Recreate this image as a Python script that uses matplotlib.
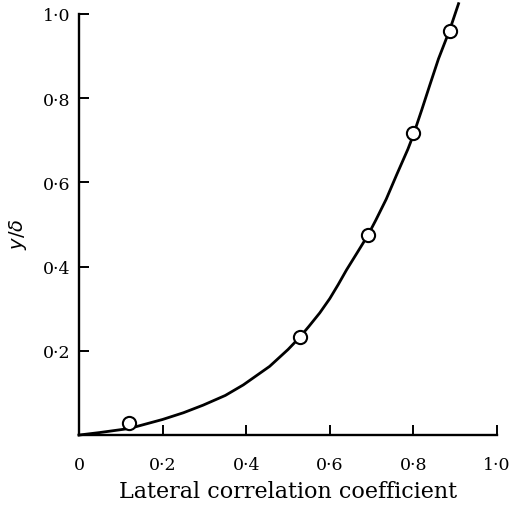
import numpy as np
import matplotlib.pyplot as plt

# measured points (open circles)
meas_x = [0.119, 0.528, 0.691, 0.799, 0.887]
meas_y = [0.029, 0.233, 0.474, 0.717, 0.960]

# fitted curve
curve_x = [0.0, 0.05, 0.106, 0.122, 0.2, 0.25, 0.297, 0.35, 0.393, 0.456,
           0.50, 0.528, 0.55, 0.576, 0.60, 0.62, 0.64, 0.665, 0.691, 0.71,
           0.735, 0.76, 0.787, 0.799, 0.82, 0.839, 0.86, 0.887, 0.908]
curve_y = [0.0, 0.006, 0.0136, 0.016, 0.037, 0.053, 0.071, 0.094, 0.119, 0.163,
           0.203, 0.232, 0.258, 0.29, 0.324, 0.357, 0.392, 0.432, 0.474, 0.51,
           0.56, 0.618, 0.679, 0.71, 0.772, 0.83, 0.893, 0.962, 1.024]

x_ticks = [0.0, 0.2, 0.4, 0.6, 0.8, 1.0]
x_labels = ["0", "0·2", "0·4", "0·6", "0·8", "1·0"]
y_ticks = [0.2, 0.4, 0.6, 0.8, 1.0]
y_labels = ["0·2", "0·4", "0·6", "0·8", "1·0"]

plt.rcParams["font.family"] = "DejaVu Serif"

fig = plt.figure(figsize=(5.11, 5.10), dpi=100)
ax = fig.add_axes([0.1546, 0.145, 0.818, 0.826])

ax.plot(curve_x, curve_y, color="black", linewidth=2.0, clip_on=False, zorder=2,
        solid_joinstyle="round")
ax.plot(meas_x, meas_y, "o", markersize=9.5, markerfacecolor="white",
        markeredgecolor="black", markeredgewidth=1.5, clip_on=False, zorder=3)

ax.set_xlim(0, 1.0)
ax.set_ylim(0, 1.0)
ax.set_xticks(x_ticks)
ax.set_xticklabels(x_labels)
ax.set_yticks(y_ticks)
ax.set_yticklabels(y_labels)

for side in ["top", "right"]:
    ax.spines[side].set_visible(False)
for side in ["left", "bottom"]:
    ax.spines[side].set_linewidth(1.7)

ax.tick_params(direction="in", length=7, width=1.4, labelsize=12.5)
ax.tick_params(axis="x", pad=15)
ax.tick_params(axis="y", pad=6)

ax.set_xlabel("Lateral correlation coefficient", fontsize=16, labelpad=5)
ax.set_ylabel(r"$y/\delta$", fontsize=14)
ax.yaxis.set_label_coords(-0.12, 0.48)

fig.savefig("out.png", dpi=100)
